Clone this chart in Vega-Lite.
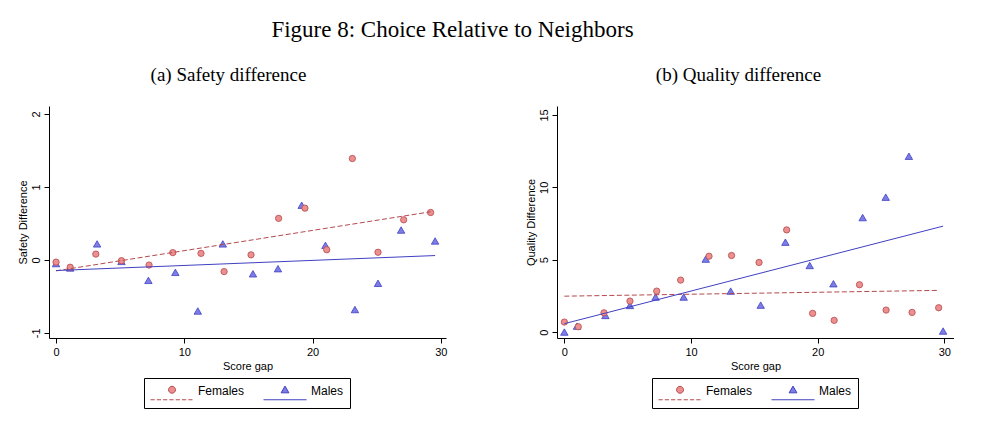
{
  "$schema": "https://vega.github.io/schema/vega-lite/v6.json",
  "background": "white",
  "padding": {"left": 17, "top": 19, "right": 0, "bottom": 0},
  "title": {"text": "Figure 8: Choice Relative to Neighbors", "font": "Liberation Serif", "fontSize": 23, "fontWeight": "normal", "color": "black", "anchor": "middle", "dx": -33, "offset": 24},
  "datasets": {
    "safety_pts": [
      {"sex": "Males", "gap": 0, "val": -0.05},
      {"sex": "Males", "gap": 1.1, "val": -0.11},
      {"sex": "Males", "gap": 3.2, "val": 0.22},
      {"sex": "Males", "gap": 5.1, "val": -0.02},
      {"sex": "Males", "gap": 7.2, "val": -0.28},
      {"sex": "Males", "gap": 9.3, "val": -0.17},
      {"sex": "Males", "gap": 11.05, "val": -0.7},
      {"sex": "Males", "gap": 13.0, "val": 0.22},
      {"sex": "Males", "gap": 15.35, "val": -0.19},
      {"sex": "Males", "gap": 17.3, "val": -0.12},
      {"sex": "Males", "gap": 19.15, "val": 0.75},
      {"sex": "Males", "gap": 21.0, "val": 0.2},
      {"sex": "Males", "gap": 23.3, "val": -0.68},
      {"sex": "Males", "gap": 25.1, "val": -0.32},
      {"sex": "Males", "gap": 26.9, "val": 0.41},
      {"sex": "Males", "gap": 29.55, "val": 0.26},
      {"sex": "Females", "gap": 0, "val": -0.03},
      {"sex": "Females", "gap": 1.1, "val": -0.1},
      {"sex": "Females", "gap": 3.1, "val": 0.08},
      {"sex": "Females", "gap": 5.1, "val": -0.01},
      {"sex": "Females", "gap": 7.25, "val": -0.07},
      {"sex": "Females", "gap": 9.1, "val": 0.1},
      {"sex": "Females", "gap": 11.3, "val": 0.09},
      {"sex": "Females", "gap": 13.1, "val": -0.16},
      {"sex": "Females", "gap": 15.2, "val": 0.07},
      {"sex": "Females", "gap": 17.35, "val": 0.57},
      {"sex": "Females", "gap": 19.4, "val": 0.71},
      {"sex": "Females", "gap": 21.1, "val": 0.14},
      {"sex": "Females", "gap": 23.1, "val": 1.39},
      {"sex": "Females", "gap": 25.1, "val": 0.105},
      {"sex": "Females", "gap": 27.1, "val": 0.55},
      {"sex": "Females", "gap": 29.2, "val": 0.65}
    ],
    "safety_fit": [
      {"sex": "Females", "gap": 0, "val": -0.15},
      {"sex": "Females", "gap": 29.2, "val": 0.66},
      {"sex": "Males", "gap": 0, "val": -0.145},
      {"sex": "Males", "gap": 29.55, "val": 0.06}
    ],
    "quality_pts": [
      {"sex": "Males", "gap": 0, "val": 0.0},
      {"sex": "Males", "gap": 1.0, "val": 0.41},
      {"sex": "Males", "gap": 3.24, "val": 1.15},
      {"sex": "Males", "gap": 5.18, "val": 1.84},
      {"sex": "Males", "gap": 7.2, "val": 2.42},
      {"sex": "Males", "gap": 9.42, "val": 2.42},
      {"sex": "Males", "gap": 11.16, "val": 5.04},
      {"sex": "Males", "gap": 13.13, "val": 2.83},
      {"sex": "Males", "gap": 15.5, "val": 1.86},
      {"sex": "Males", "gap": 17.45, "val": 6.21},
      {"sex": "Males", "gap": 19.37, "val": 4.6},
      {"sex": "Males", "gap": 21.24, "val": 3.34},
      {"sex": "Males", "gap": 23.55, "val": 7.91},
      {"sex": "Males", "gap": 25.37, "val": 9.32},
      {"sex": "Males", "gap": 27.2, "val": 12.15},
      {"sex": "Males", "gap": 29.9, "val": 0.07},
      {"sex": "Females", "gap": 0, "val": 0.69},
      {"sex": "Females", "gap": 1.1, "val": 0.37},
      {"sex": "Females", "gap": 3.13, "val": 1.33},
      {"sex": "Females", "gap": 5.18, "val": 2.14},
      {"sex": "Females", "gap": 7.29, "val": 2.83},
      {"sex": "Females", "gap": 9.18, "val": 3.59},
      {"sex": "Females", "gap": 11.42, "val": 5.24},
      {"sex": "Females", "gap": 13.2, "val": 5.29},
      {"sex": "Females", "gap": 15.37, "val": 4.81},
      {"sex": "Females", "gap": 17.55, "val": 7.06},
      {"sex": "Females", "gap": 19.6, "val": 1.29},
      {"sex": "Females", "gap": 21.3, "val": 0.81},
      {"sex": "Females", "gap": 23.3, "val": 3.27},
      {"sex": "Females", "gap": 25.4, "val": 1.52},
      {"sex": "Females", "gap": 27.45, "val": 1.36},
      {"sex": "Females", "gap": 29.55, "val": 1.68}
    ],
    "quality_fit": [
      {"sex": "Females", "gap": 0, "val": 2.48},
      {"sex": "Females", "gap": 29.55, "val": 2.88},
      {"sex": "Males", "gap": 0, "val": 0.58},
      {"sex": "Males", "gap": 29.9, "val": 7.32}
    ]
  },
  "hconcat": [
    {
      "width": 397,
      "height": 232,
      "title": {"text": "(a) Safety difference", "font": "Liberation Serif", "fontSize": 19, "fontWeight": "normal", "color": "black", "anchor": "middle", "dx": -19, "offset": 21},
      "encoding": {
        "x": {"field": "gap", "type": "quantitative", "scale": {"domain": [-0.55, 30.4], "nice": false, "zero": false}, "axis": {"values": [0, 10, 20, 30], "title": "Score gap"}},
        "y": {"field": "val", "type": "quantitative", "scale": {"domain": [-1.07, 2.11], "nice": false, "zero": false}, "axis": {"values": [-1, 0, 1, 2], "title": "Safety Difference", "labelExpr": "'' + datum.value"}}
      },
      "layer": [
        {
          "data": {"name": "safety_pts"},
          "transform": [{"filter": "datum.sex === 'Males'"}],
          "mark": {"type": "point", "filled": true, "opacity": 1, "shape": "triangle-up", "size": 55, "fill": "#7d7de8", "stroke": "#4040c0", "strokeWidth": 0.8}
        },
        {
          "data": {"name": "safety_pts"},
          "transform": [{"filter": "datum.sex === 'Females'"}],
          "mark": {"type": "point", "filled": true, "opacity": 1, "shape": "circle", "size": 40, "fill": "#eb8f8f", "stroke": "#b5494d", "strokeWidth": 0.8}
        },
        {
          "data": {"name": "safety_fit"},
          "transform": [{"filter": "datum.sex === 'Females'"}],
          "mark": {"type": "line", "strokeWidth": 1, "stroke": "#b5494d", "strokeDash": [5, 2.5]}
        },
        {
          "data": {"name": "safety_fit"},
          "transform": [{"filter": "datum.sex === 'Males'"}],
          "mark": {"type": "line", "strokeWidth": 1},
          "encoding": {
            "stroke": {"field": "sex", "type": "nominal", "scale": {"domain": ["Females", "Males"], "range": ["#b5494d", "#4040c0"]}, "legend": {"orient": "none", "legendX": 95, "legendY": 272, "direction": "horizontal", "title": null, "strokeColor": "black", "fillColor": "white", "padding": 6, "symbolSize": 441, "symbolStrokeWidth": 1, "labelFont": "Liberation Sans", "labelFontSize": 12, "labelColor": "black", "labelOffset": 26, "columnPadding": 16, "encode": {"symbols": {"update": {"shape": {"signal": "datum.value === 'Females' ? 'M1.38,-0.52A0.33,0.33,0,1,1,0.72,-0.52A0.33,0.33,0,1,1,1.38,-0.52ZM-1,0.43H-0.6M-0.4,0.43H0M0.2,0.43H0.6M0.8,0.43H1.2M1.4,0.43H1.8M2,0.43H2.4M2.6,0.43H3' : 'M1.05,-0.87L1.42,-0.23L0.68,-0.23ZM-1,0.43H3.1'"}, "fill": {"signal": "datum.value === 'Females' ? '#eb8f8f' : '#7d7de8'"}, "stroke": {"signal": "datum.value === 'Females' ? '#b5494d' : '#4040c0'"}, "opacity": {"value": 1}}}, "labels": {"update": {"dy": {"value": -4}}}}}}
          }
        }
      ]
    },
    {
      "width": 397,
      "height": 232,
      "title": {"text": "(b) Quality difference", "font": "Liberation Serif", "fontSize": 19, "fontWeight": "normal", "color": "black", "anchor": "middle", "dx": -17, "offset": 21},
      "encoding": {
        "x": {"field": "gap", "type": "quantitative", "scale": {"domain": [-0.58, 30.76], "nice": false, "zero": false}, "axis": {"values": [0, 10, 20, 30], "title": "Score gap"}},
        "y": {"field": "val", "type": "quantitative", "scale": {"domain": [-0.41, 15.62], "nice": false, "zero": false}, "axis": {"values": [0, 5, 10, 15], "title": "Quality Difference", "labelExpr": "'' + datum.value"}}
      },
      "layer": [
        {
          "data": {"name": "quality_pts"},
          "transform": [{"filter": "datum.sex === 'Males'"}],
          "mark": {"type": "point", "filled": true, "opacity": 1, "shape": "triangle-up", "size": 55, "fill": "#7d7de8", "stroke": "#4040c0", "strokeWidth": 0.8}
        },
        {
          "data": {"name": "quality_pts"},
          "transform": [{"filter": "datum.sex === 'Females'"}],
          "mark": {"type": "point", "filled": true, "opacity": 1, "shape": "circle", "size": 40, "fill": "#eb8f8f", "stroke": "#b5494d", "strokeWidth": 0.8}
        },
        {
          "data": {"name": "quality_fit"},
          "transform": [{"filter": "datum.sex === 'Females'"}],
          "mark": {"type": "line", "strokeWidth": 1, "stroke": "#b5494d", "strokeDash": [5, 2.5]}
        },
        {
          "data": {"name": "quality_fit"},
          "transform": [{"filter": "datum.sex === 'Males'"}],
          "mark": {"type": "line", "strokeWidth": 1},
          "encoding": {
            "stroke": {"field": "sex", "type": "nominal", "scale": {"domain": ["Females", "Males"], "range": ["#b5494d", "#4040c0"]}, "legend": {"orient": "none", "legendX": 95, "legendY": 272, "direction": "horizontal", "title": null, "strokeColor": "black", "fillColor": "white", "padding": 6, "symbolSize": 441, "symbolStrokeWidth": 1, "labelFont": "Liberation Sans", "labelFontSize": 12, "labelColor": "black", "labelOffset": 26, "columnPadding": 16, "encode": {"symbols": {"update": {"shape": {"signal": "datum.value === 'Females' ? 'M1.38,-0.52A0.33,0.33,0,1,1,0.72,-0.52A0.33,0.33,0,1,1,1.38,-0.52ZM-1,0.43H-0.6M-0.4,0.43H0M0.2,0.43H0.6M0.8,0.43H1.2M1.4,0.43H1.8M2,0.43H2.4M2.6,0.43H3' : 'M1.05,-0.87L1.42,-0.23L0.68,-0.23ZM-1,0.43H3.1'"}, "fill": {"signal": "datum.value === 'Females' ? '#eb8f8f' : '#7d7de8'"}, "stroke": {"signal": "datum.value === 'Females' ? '#b5494d' : '#4040c0'"}, "opacity": {"value": 1}}}, "labels": {"update": {"dy": {"value": -4}}}}}}
          }
        }
      ]
    }
  ],
  "spacing": 78,
  "resolve": {
    "scale": {"x": "independent", "y": "independent", "stroke": "independent"},
    "legend": {"stroke": "independent"}
  },
  "config": {
    "view": {"stroke": null},
    "font": "Liberation Sans",
    "axis": {"grid": false, "domainColor": "black", "tickColor": "black", "labelColor": "black", "titleColor": "black", "labelFont": "Liberation Sans", "titleFont": "Liberation Sans", "labelFontSize": 11, "titleFontSize": 11, "titleFontWeight": "normal", "tickSize": 5, "labelFlush": false, "labelOverlap": false},
    "axisX": {"labelPadding": 3, "titlePadding": 3},
    "axisY": {"labelAngle": 270, "labelAlign": "center", "labelBaseline": "alphabetic", "labelPadding": 5, "titlePadding": 2}
  }
}
